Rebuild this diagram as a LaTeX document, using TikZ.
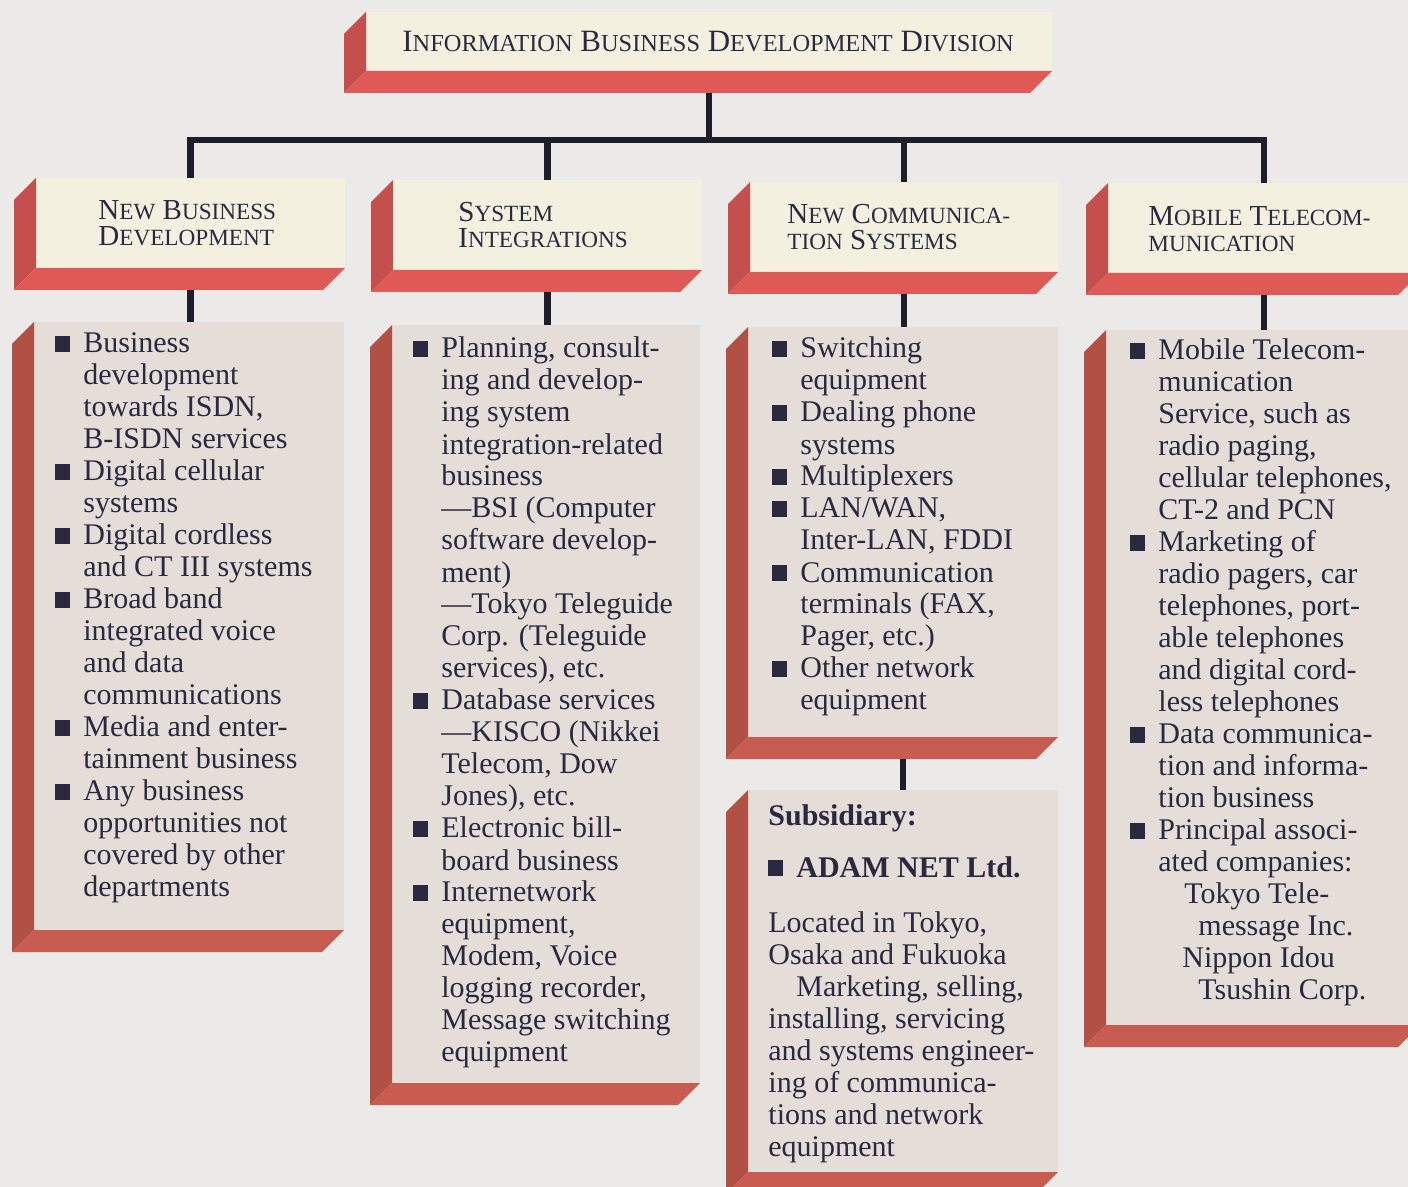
\documentclass[tikz,border=0pt]{standalone}
\usepackage{fontspec}
\setmainfont{Liberation Serif}
\usepackage{xcolor}
\usepackage{tikz}
\usetikzlibrary{positioning}

\definecolor{paper}{HTML}{EBEAE8}
\definecolor{headcream}{HTML}{F4F0E0}
\definecolor{listgrey}{HTML}{E4DDD8}
\definecolor{headred}{HTML}{DF5A57}
\definecolor{listred}{HTML}{C95C50}
\definecolor{ink}{HTML}{2A2940}
\definecolor{wirecol}{HTML}{1E1E2A}

\newcommand{\blob}{\rule[0.6pt]{7.5pt}{8pt}}
\newcommand{\entry}{\par\hangindent=14pt\hangafter=1\noindent\makebox[14pt][l]{\blob}}
\newcommand{\listbody}[1]{\parbox[t]{150pt}{\fontsize{15}{16}\selectfont #1}}
% titles: capital initial, smaller capitals for the rest of the word
\newcommand{\hw}[2]{#1{\fontsize{\smallcapsize}{13}\selectfont #2}}
\newcommand{\headbody}[3]{\parbox[t]{330pt}{\fontsize{#1}{13}\selectfont\def\smallcapsize{#2}#3}}
% red faces of a slab: the left side and the underside
\newcommand{\slabsides}[2]{%
  \fill[#2!88!black] (#1.north west) -- ++(-22,22) -- ([shift={(-22,22)}]#1.south west) -- (#1.south west) -- cycle;
  \fill[#2] (#1.south west) -- ([shift={(-22,22)}]#1.south west) -- ([shift={(-22,22)}]#1.south east) -- (#1.south east) -- cycle;}

\begin{document}
\begin{tikzpicture}[
    x=0.5pt, y=-0.5pt,
    headslab/.style={fill=headcream, inner sep=0pt, outer sep=0pt, anchor=north west},
    listslab/.style={fill=listgrey, inner sep=0pt, outer sep=0pt, anchor=north west},
    headtext/.style={anchor=base west, inner sep=0pt, text=ink},
    listtext/.style={anchor=base west, inner sep=0pt, text=ink},
    wire/.style={draw=wirecol, line width=3.4pt, line join=miter},
]
    \path[use as bounding box, fill=paper] (0,0) rectangle (1408,1187);

    % Division
    \node[headslab, minimum width=343pt, minimum height=29.5pt] (divhead) at (366,12) {};
    \node[headtext] (divtitle) at ([shift={(36,40)}]divhead.north west)
        {\headbody{15.5}{12.2}{\hw{I}{NFORMATION} \hw{B}{USINESS} \hw{D}{EVELOPMENT} \hw{D}{IVISION}}};

    % Departments
    \node[headslab, minimum width=154.5pt, minimum height=45pt] (nbdhead) at (36,178) {};
    \node[headslab, minimum width=154.5pt, minimum height=45pt] (sihead) at (393,180) {};
    \node[headslab, minimum width=154pt, minimum height=45pt] (ncshead) at (750,182) {};
    \node[headslab, minimum width=156pt, minimum height=45pt] (mthead) at (1108,183) {};

    \node[headtext] (nbdtitle) at ([shift={(62,42)}]nbdhead.north west)
        {\headbody{14.5}{11.6}{\hw{N}{EW} \hw{B}{USINESS}\\ \hw{D}{EVELOPMENT}}};
    \node[headtext] (sititle) at ([shift={(65,42)}]sihead.north west)
        {\headbody{14.5}{11.6}{\hw{S}{YSTEM}\\ \hw{I}{NTEGRATIONS}}};
    \node[headtext] (ncstitle) at ([shift={(37,42)}]ncshead.north west)
        {\headbody{14.5}{11.6}{\hw{N}{EW} \hw{C}{OMMUNICA-}\\ {\fontsize{11.6}{13}\selectfont TION} \hw{S}{YSTEMS}}};
    \node[headtext] (mttitle) at ([shift={(40,43)}]mthead.north west)
        {\headbody{14.5}{11.6}{\hw{M}{OBILE} \hw{T}{ELECOM-}\\ {\fontsize{11.6}{13}\selectfont MUNICATION}}};

    % Activities
    \node[listslab, minimum width=155pt, minimum height=304pt] (nbdlist) at (34,322) {};
    \node[listslab, minimum width=154pt, minimum height=379pt] (silist) at (392,325) {};
    \node[listslab, minimum width=155pt, minimum height=205pt] (ncslist) at (748,327) {};
    \node[listslab, minimum width=155pt, minimum height=191pt] (ncssub) at (748,790) {};
    \node[listslab, minimum width=157pt, minimum height=347.5pt] (mtlist) at (1106,330) {};

    \node[listtext] (nbditems) at ([shift={(21,31)}]nbdlist.north west) {\listbody{%
        \entry Business\\ development\\ towards ISDN,\\ B-ISDN services
        \entry Digital cellular\\ systems
        \entry Digital cordless\\ and CT III systems
        \entry Broad band\\ integrated voice\\ and data\\ communications
        \entry Media and enter-\\ tainment business
        \entry Any business\\ opportunities not\\ covered by other\\ departments}};

    \node[listtext] (siitems) at ([shift={(21,33)}]silist.north west) {\listbody{%
        \entry Planning, consult-\\ ing and develop-\\ ing system\\ integration-related\\ business\\
            ---BSI (Computer\\ software develop-\\ ment)\\ ---Tokyo Teleguide\\ Corp. (Teleguide\\ services), etc.
        \entry Database services\\ ---KISCO (Nikkei\\ Telecom, Dow\\ Jones), etc.
        \entry Electronic bill-\\ board business
        \entry Internetwork\\ equipment,\\ Modem, Voice\\ logging recorder,\\ Message switching\\ equipment}};

    \node[listtext] (ncsitems) at ([shift={(24,31)}]ncslist.north west) {\listbody{%
        \entry Switching\\ equipment
        \entry Dealing phone\\ systems
        \entry Multiplexers
        \entry LAN/WAN,\\ Inter-LAN, FDDI
        \entry Communication\\ terminals (FAX,\\ Pager, etc.)
        \entry Other network\\ equipment}};

    \node[listtext] (subitems) at ([shift={(20,35)}]ncssub.north west) {\listbody{%
        {\bfseries Subsidiary:}\par\vspace{10pt}
        \entry{\bfseries ADAM NET Ltd.}\par\vspace{11.5pt}
        \noindent Located in Tokyo,\\ Osaka and Fukuoka\\ \hspace*{14pt}Marketing, selling,\\ installing, servicing\\
        and systems engineer-\\ ing of communica-\\ tions and network\\ equipment}};

    \node[listtext] (mtitems) at ([shift={(24,30)}]mtlist.north west) {\listbody{%
        \entry Mobile Telecom-\\ munication\\ Service, such as\\ radio paging,\\ cellular telephones,\\ CT-2 and PCN
        \entry Marketing of\\ radio pagers, car\\ telephones, port-\\ able telephones\\ and digital cord-\\ less telephones
        \entry Data communica-\\ tion and informa-\\ tion business
        \entry Principal associ-\\ ated companies:\\ \hspace*{13pt}Tokyo Tele-\\ \hspace*{20pt}message Inc.\\
            \hspace*{12pt}Nippon Idou\\ \hspace*{20pt}Tsushin Corp.}};

    % Red sides
    \slabsides{divhead}{headred}
    \slabsides{nbdhead}{headred}
    \slabsides{sihead}{headred}
    \slabsides{ncshead}{headred}
    \slabsides{mthead}{headred}
    \slabsides{nbdlist}{listred}
    \slabsides{silist}{listred}
    \slabsides{ncslist}{listred}
    \slabsides{ncssub}{listred}
    \slabsides{mtlist}{listred}

    % Tree
    \draw[wire] ([shift={(0,22)}]divhead.south) -- ++(0,47) coordinate (bus);
    \draw[wire] (nbdhead.north) |- (bus);
    \draw[wire] (mthead.north) |- (bus);
    \draw[wire] (sihead.north) -- (sihead.north |- bus);
    \draw[wire] (ncshead.north) -- (ncshead.north |- bus);

    \draw[wire] ([shift={(0,22)}]nbdhead.south) -- (nbdhead.south |- nbdlist.north);
    \draw[wire] ([shift={(0,22)}]sihead.south) -- (sihead.south |- silist.north);
    \draw[wire] ([shift={(0,22)}]ncshead.south) -- (ncshead.south |- ncslist.north);
    \draw[wire] ([shift={(0,22)}]mthead.south) -- (mthead.south |- mtlist.north);
    \draw[wire] ([shift={(0,22)}]ncslist.south) -- (ncslist.south |- ncssub.north);

\end{tikzpicture}
\end{document}
